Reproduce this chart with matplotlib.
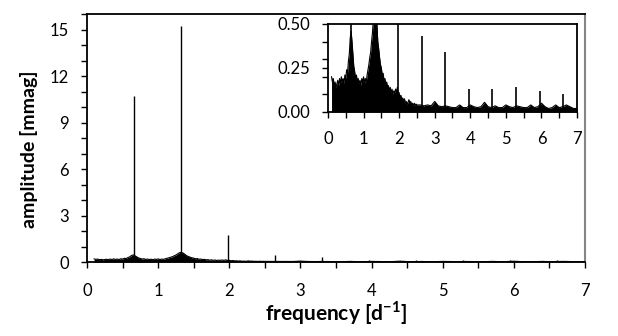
import numpy as np
import matplotlib.pyplot as plt
from matplotlib.ticker import MultipleLocator, FixedLocator

plt.rcParams['font.family'] = ['Lato', 'DejaVu Sans']
plt.rcParams['mathtext.fontset'] = 'custom'
plt.rcParams['mathtext.rm'] = 'Lato'
plt.rcParams['mathtext.bf'] = 'Lato:bold'

# noise of the amplitude spectrum
# fine steps below 2.5 d-1, coarser above
noise_freq = [0.100, 0.125, 0.150, 0.175, 0.200, 0.225, 0.250, 0.275, 0.300, 0.325,
              0.350, 0.375, 0.400, 0.425, 0.450, 0.475, 0.500, 0.525, 0.550, 0.575,
              0.600, 0.625, 0.650, 0.675, 0.700, 0.725, 0.750, 0.775, 0.800, 0.825,
              0.850, 0.875, 0.900, 0.925, 0.950, 0.975, 1.000, 1.025, 1.050, 1.075,
              1.100, 1.125, 1.150, 1.175, 1.200, 1.225, 1.250, 1.275, 1.300, 1.325,
              1.350, 1.375, 1.400, 1.425, 1.450, 1.475, 1.500, 1.525, 1.550, 1.575,
              1.600, 1.625, 1.650, 1.675, 1.700, 1.725, 1.750, 1.775, 1.800, 1.825,
              1.850, 1.875, 1.900, 1.925, 1.950, 1.975, 2.000, 2.025, 2.050, 2.075,
              2.100, 2.125, 2.150, 2.175, 2.200, 2.225, 2.250, 2.275, 2.300, 2.325,
              2.350, 2.375, 2.400, 2.425, 2.450, 2.475, 2.500,
              2.6, 2.7, 2.8, 2.9, 3.0, 3.1, 3.2, 3.3, 3.4, 3.5, 3.6, 3.7,
              3.8, 3.9, 4.0, 4.1, 4.2, 4.3, 4.4, 4.5, 4.6, 4.7, 4.8, 4.9,
              5.0, 5.1, 5.2, 5.3, 5.4, 5.5, 5.6, 5.7, 5.8, 5.9, 6.0, 6.1,
              6.2, 6.3, 6.4, 6.5, 6.6, 6.7, 6.8, 6.9, 7.0]
noise_amp = [0.20, 0.17, 0.19, 0.15, 0.17, 0.14, 0.16, 0.18, 0.15, 0.19,
             0.16, 0.20, 0.17, 0.19, 0.16, 0.21, 0.19, 0.24, 0.22, 0.29,
             0.33, 0.42, 0.46, 0.40, 0.33, 0.26, 0.23, 0.19, 0.21, 0.17,
             0.19, 0.16, 0.18, 0.15, 0.19, 0.17, 0.20, 0.16, 0.19, 0.17,
             0.21, 0.24, 0.27, 0.31, 0.34, 0.40, 0.45, 0.53, 0.60, 0.62,
             0.58, 0.50, 0.40, 0.36, 0.31, 0.27, 0.25, 0.21, 0.22, 0.18,
             0.19, 0.16, 0.17, 0.14, 0.15, 0.12, 0.14, 0.11, 0.13, 0.10,
             0.12, 0.11, 0.13, 0.11, 0.14, 0.10, 0.11, 0.08, 0.095, 0.07,
             0.08, 0.06, 0.075, 0.05, 0.06, 0.045, 0.055, 0.07, 0.05, 0.06,
             0.04, 0.05, 0.035, 0.05, 0.04, 0.045, 0.04,
             0.04, 0.035, 0.04, 0.035, 0.06, 0.035, 0.03, 0.035, 0.03, 0.025, 0.025, 0.04,
             0.025, 0.025, 0.04, 0.03, 0.025, 0.03, 0.055, 0.03, 0.025, 0.035, 0.025, 0.025,
             0.04, 0.03, 0.025, 0.035, 0.03, 0.025, 0.025, 0.04, 0.025, 0.03, 0.05, 0.03,
             0.02, 0.025, 0.04, 0.025, 0.03, 0.04, 0.03, 0.02, 0.02]

# main frequency and its harmonics
peak_freq = [0.66, 1.32, 1.98, 2.64, 3.30, 3.97, 4.62, 5.29, 5.95, 6.61]
peak_amp = [10.7, 15.2, 1.75, 0.43, 0.34, 0.13, 0.13, 0.14, 0.12, 0.10]


def draw_spectrum(ax, lw):
    ax.fill_between(noise_freq, 0, noise_amp, color='black', lw=0)
    ax.plot(noise_freq, noise_amp, color='black', lw=0.8)
    ax.vlines(peak_freq, 0, peak_amp, color='black', lw=lw)


fig = plt.figure(figsize=(6.18, 3.36), dpi=100)

# main panel
ax = fig.add_axes([0.1408, 0.2202, 0.8058, 0.7381])
draw_spectrum(ax, 1.0)
ax.set_xlim(0, 7)
ax.set_ylim(0, 16)
ax.xaxis.set_major_locator(MultipleLocator(1))
ax.xaxis.set_minor_locator(MultipleLocator(0.5))
ax.set_yticks([0, 3, 6, 9, 12, 15])
ax.yaxis.set_minor_locator(MultipleLocator(1))
ax.tick_params(which='both', direction='out', length=4, width=1.0, color='black',
               labelsize=12, top=False, right=False)
ax.tick_params(axis='x', pad=11)
ax.tick_params(axis='y', pad=9)
for s in ['left', 'bottom', 'top']:
    ax.spines[s].set_linewidth(1.3)
    ax.spines[s].set_color('black')
ax.spines['right'].set_color('#858585')
ax.spines['right'].set_linewidth(1.5)
ax.set_xlabel(r'frequency [d$^{\mathbf{-1}}$]', fontsize=15, fontweight='bold', labelpad=0)
ax.set_ylabel('amplitude [mmag]', fontsize=14, fontweight='bold')
ax.yaxis.set_label_coords(-0.098, 0.455)

# inset
ins = fig.add_axes([0.5307, 0.6667, 0.4030, 0.2619])
draw_spectrum(ins, 1.2)
ins.set_xlim(0, 7)
ins.set_ylim(0, 0.5)
ins.xaxis.set_major_locator(MultipleLocator(1))
ins.xaxis.set_minor_locator(MultipleLocator(0.5))
ins.set_yticks([0.0, 0.25, 0.5])
ins.set_yticklabels(['0.00', '0.25', '0.50'])
ins.yaxis.set_minor_locator(FixedLocator([0.1, 0.2, 0.3, 0.4]))
ins.tick_params(which='both', direction='out', length=4, width=1.0, labelsize=12)
ins.tick_params(axis='x', pad=10)
ins.tick_params(axis='y', pad=9)
for s in ins.spines.values():
    s.set_linewidth(1.3)

fig.savefig('out.png', dpi=100)
